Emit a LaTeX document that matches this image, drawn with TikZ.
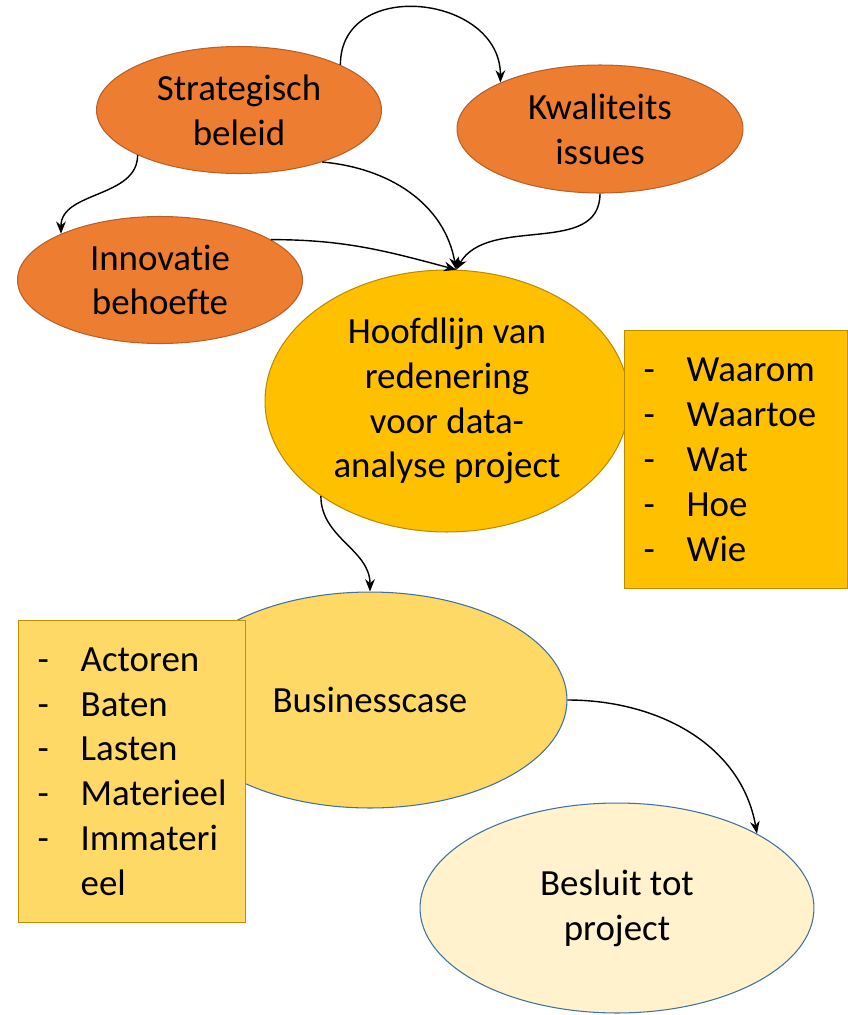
\documentclass[tikz,border=0pt]{standalone}
\usepackage{fontspec}
\setmainfont{Carlito}[RawFeature={-liga;-clig;-calt;-dlig}]
\usepackage{xcolor}
\definecolor{bOrange}{HTML}{ED7D31}
\definecolor{bOrangeLine}{HTML}{B6612A}
\definecolor{bGold}{HTML}{FFC000}
\definecolor{bGoldLine}{HTML}{BC8C00}
\definecolor{bSand}{HTML}{FFD966}
\definecolor{bSandLine}{HTML}{BF9000}
\definecolor{bCream}{HTML}{FFF2CC}
\definecolor{bBlueLine}{HTML}{41719C}
\usepackage{tikz}
\usetikzlibrary{positioning,shapes,arrows.meta}
\newcommand{\dashitem}[1]{\makebox[0.86cm][l]{-}#1}

\begin{document}
\begin{tikzpicture}[
            x=0.02cm, y=-0.02cm,
            bubble/.style={
                ellipse,
                draw,
                inner sep=0pt,
                align=center,
                line width=0.6pt,
                font=\fontsize{21}{25.5}\selectfont
            },
            topic/.style={
                bubble,
                fill=bOrange,
                draw=bOrangeLine,
                minimum width=5.7cm,
                minimum height=2.54cm
            },
            listbox/.style={
                draw,
                rectangle,
                anchor=north west,
                align=left,
                inner xsep=0.38cm,
                inner ysep=0pt,
                line width=0.8pt,
                font=\fontsize{21}{25.5}\selectfont
            },
            arrow/.style={
                -{Stealth[length=7pt,width=5.5pt]},
                line width=0.8pt,
                color=black
            }
        ]
            \useasboundingbox (0,0) rectangle (848,1015);

            \node (strat) [topic] at (239,110) {Strategisch\\beleid};
            \node (kwal) [topic, minimum width=5.72cm, minimum height=2.56cm] at (600,129) {Kwaliteits\\issues};
            \node (innov) [topic] at (160,280) {Innovatie\\behoefte};
            \node (hoofd) [bubble, fill=bGold, draw=bGoldLine, minimum width=7.28cm, minimum height=5.24cm] at (447,401) {Hoofdlijn van\\redenering\\voor data-\\analyse project};
            \node (why) [listbox, fill=bGold, draw=bGoldLine, text width=3.7cm, minimum height=5.16cm] at (624,330)
                {\dashitem{Waarom}\\\dashitem{Waartoe}\\\dashitem{Wat}\\\dashitem{Hoe}\\\dashitem{Wie}};

            \node (bus) [bubble, fill=bSand, draw=bBlueLine, minimum width=7.88cm, minimum height=4.32cm] at (370,700) {Businesscase};
            \node (costs) [listbox, fill=bSand, draw=bSandLine, text width=3.78cm, minimum height=6.04cm] at (18,620)
                {\dashitem{Actoren}\\\dashitem{Baten}\\\dashitem{Lasten}\\\dashitem{Materieel}\\\dashitem{Immateri}\\\makebox[0.86cm]{}eel};
            \node (besluit) [bubble, fill=bCream, draw=bBlueLine, minimum width=7.88cm, minimum height=4.2cm] at (617,908) {Besluit tot\\project};

            % connectors
            \draw[arrow] (strat.24) to[out=90, in=90, looseness=1.4] (kwal.155);
            \draw[arrow] (strat.204) to[out=-90, in=90] (innov.155);
            \draw[arrow] (strat.-32) to[out=-5, in=100] (hoofd.86);
            \draw[arrow] (kwal.south) to[out=-90, in=60] (hoofd.86);
            \draw[arrow] (innov.20) to[out=0, in=165] (hoofd.86);
            \draw[arrow] (hoofd.217) to[out=-90, in=90] (bus.north);
            \draw[arrow] (bus.east) to[out=0, in=100] (besluit.28);
        \end{tikzpicture}
\end{document}
